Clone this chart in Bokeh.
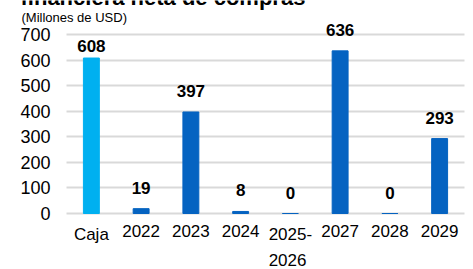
from bokeh.plotting import figure
from bokeh.models import ColumnDataSource, Range1d, FixedTicker, Label, LabelSet, Grid
from bokeh.core.properties import value
from bokeh.embed import file_html
from bokeh.resources import INLINE

categories = ["Caja", "2022", "2023", "2024", "2025-\n2026", "2027", "2028", "2029"]
values = [608, 19, 397, 8, 0, 636, 0, 293]
value_labels = ["608", "19", "397", "8", "0", "636", "0", "293"]
y_ticks = [0, 100, 200, 300, 400, 500, 600, 700]
y_tick_labels = ["0", "100", "200", "300", "400", "500", "600", "700"]

title_text = "financiera neta de compras"
subtitle_text = "(Millones de USD)"
footnote_text = "Fuente: Elaborado con información de los emisores y del mercado financiero."

colors = ["#00B0F0"] + ["#0563C1"] * (len(categories) - 1)
label_offsets = [12, 21, 21, 21, 21, 21, 21, 21]

W, H = 473, 269
# layout of the plotting area in pixels (style, not data)
left_px, right_px, zero_px, top_tick_px = 66, 464, 213, 34
cat_px = (right_px - left_px) / len(categories)
val_px = (zero_px - top_tick_px) / y_ticks[-1]

def xd(px):
    return -0.5 + (px - left_px) / cat_px

def yd(py):
    return (zero_px - py) / val_px

idx = list(range(len(categories)))
src = ColumnDataSource(dict(x=idx, cat=categories, val=values, lab=value_labels,
                            color=colors, off=label_offsets))
tick_src = ColumnDataSource(dict(y=y_ticks, lab=y_tick_labels))

p = figure(width=W, height=H, output_backend="svg", toolbar_location=None,
           x_range=Range1d(xd(0), xd(W)), y_range=Range1d(yd(H), yd(0)),
           x_axis_type=None, y_axis_type=None,
           min_border_left=0, min_border_right=0, min_border_top=0, min_border_bottom=0)
p.outline_line_color = None
p.background_fill_color = "white"
p.border_fill_color = "white"

p.add_layout(Grid(dimension=1, ticker=FixedTicker(ticks=y_ticks),
                  cross_bounds=(-0.5, len(categories) - 0.5),
                  grid_line_color="#D9D9D9", grid_line_width=2))

p.vbar(x="x", top="val", width=0.32, color="color", source=src)

p.add_layout(LabelSet(x="x", y="val", text="lab", source=src, y_offset="off",
                      text_align="center", text_baseline="middle",
                      text_font=value("Liberation Sans"), text_font_style="bold",
                      text_font_size="17px", text_color="black"))

# category labels under the bars
p.add_layout(LabelSet(x="x", y=0, text="cat", source=src, y_offset=-11,
                      text_align="center", text_baseline="top", text_line_height=1.38,
                      text_font=value("Liberation Sans"),
                      text_font_size="17px", text_color="black"))

# value-axis tick labels
p.add_layout(LabelSet(x=-0.5, y="y", text="lab", source=tick_src, x_offset=-16,
                      text_align="right", text_baseline="middle",
                      text_font=value("Liberation Sans"),
                      text_font_size="18px", text_color="black"))

p.add_layout(Label(x=xd(20), y=yd(-3), text=title_text, text_font="Liberation Sans",
                   text_font_style="bold", text_font_size="22px", text_color="black",
                   text_baseline="alphabetic"))
p.add_layout(Label(x=xd(21), y=yd(17), text=subtitle_text, text_font="Liberation Sans",
                   text_font_size="13px", text_color="black", text_baseline="alphabetic"))
p.add_layout(Label(x=xd(15), y=yd(276), text=footnote_text, text_font="Liberation Sans",
                   text_font_size="13px", text_color="black", text_baseline="alphabetic"))

open("out.html", "w").write(file_html(p, INLINE))
